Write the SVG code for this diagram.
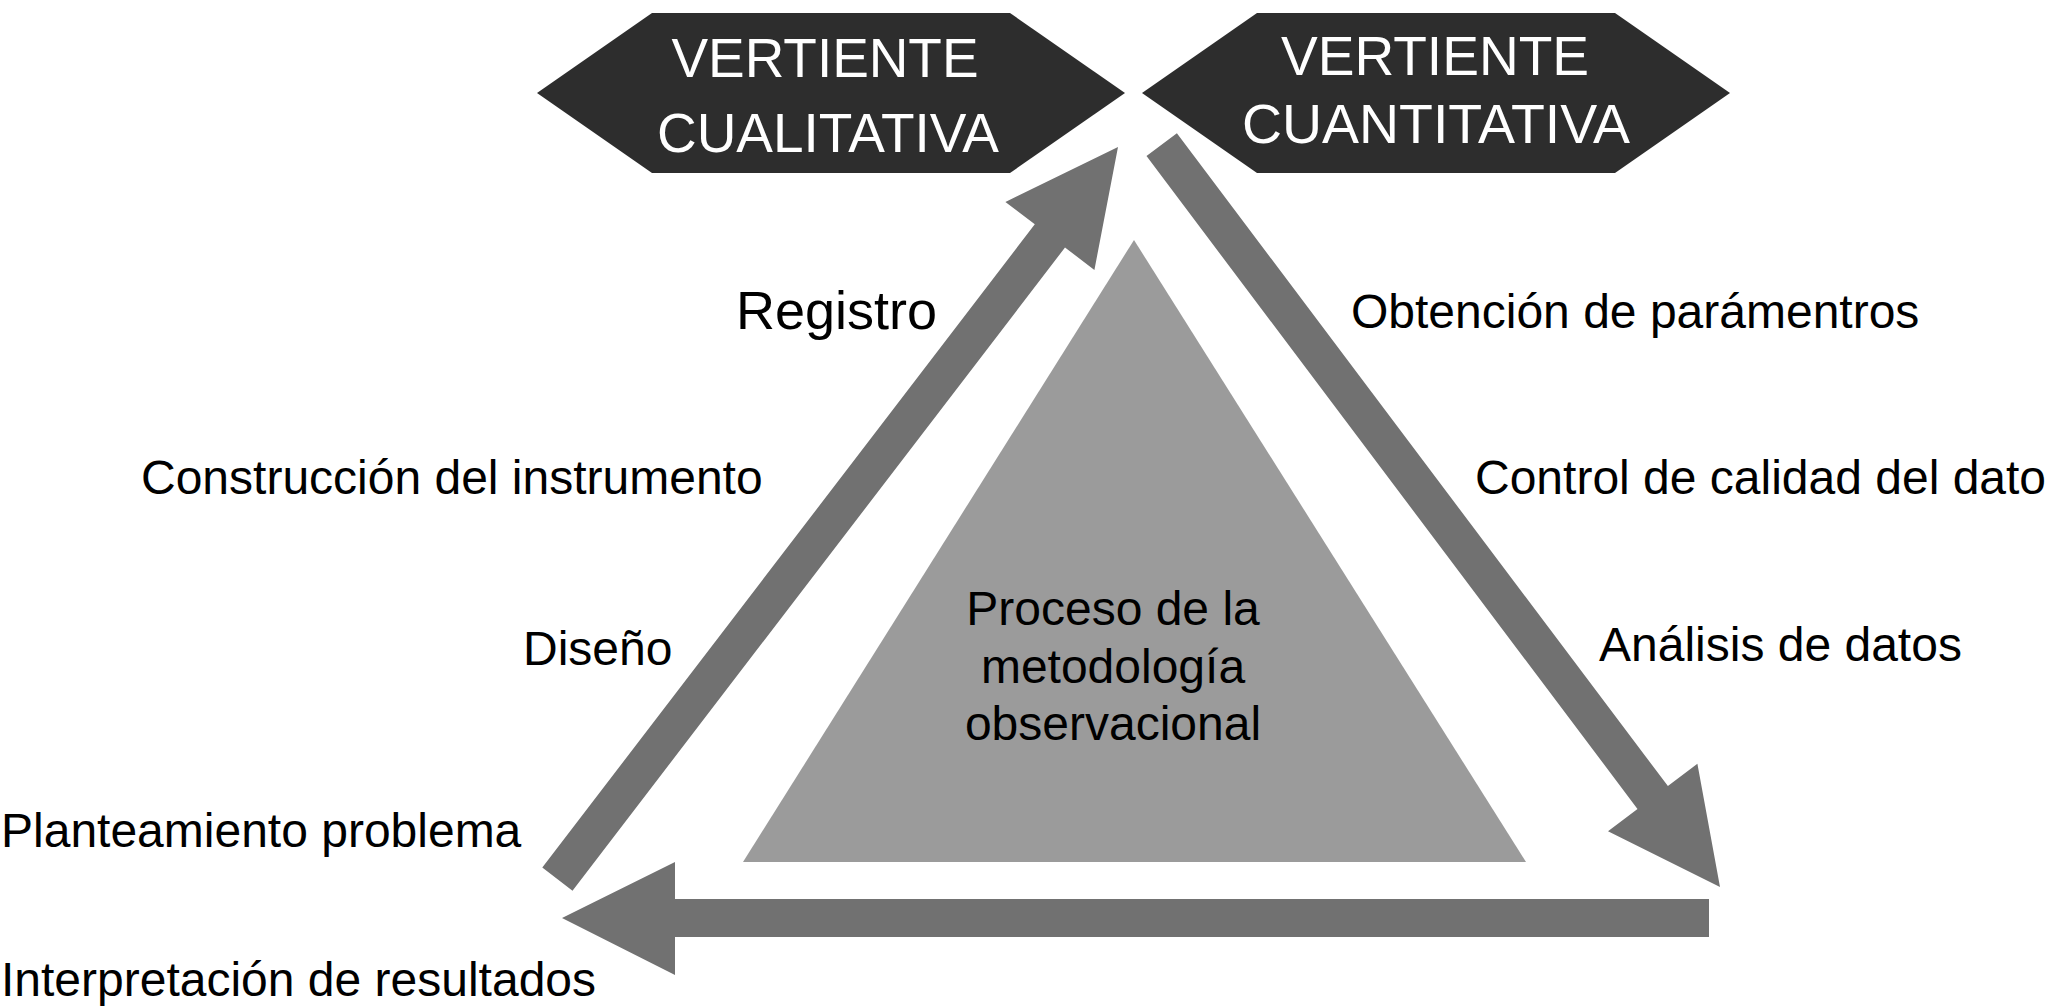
<svg xmlns="http://www.w3.org/2000/svg" width="2050" height="1008" viewBox="0 0 2050 1008">
  <style>
    .hex { fill: #2d2d2d; }
    .hext { fill: #ffffff; font-family: "Liberation Sans", Arial, sans-serif; font-size: 56px; text-anchor: middle; }
    .arrow { fill: #717171; }
    .tri { fill: #9b9b9b; }
    .lbl { fill: #000000; font-family: "Liberation Sans", Arial, sans-serif; font-size: 48px; }
    .tt { fill: #000000; font-family: "Liberation Sans", Arial, sans-serif; font-size: 48px; text-anchor: middle; }
  </style>
  <rect width="2050" height="1008" fill="#ffffff"/>

  <g id="triangulo">
    <polygon class="tri" points="1134,240 1526,862 743,862"/>
    <text class="tt" x="1113" y="625">Proceso de la</text>
    <text class="tt" x="1113" y="683">metodología</text>
    <text class="tt" x="1113" y="740">observacional</text>
  </g>

  <g id="connectors">
    <polygon class="arrow" points="1118,147 1094.4,269.9 1065,247.5 572.5,890.7 542.3,867.5 1034.8,224.3 1005.4,201.9"/>
    <polygon class="arrow" points="1720,887 1608,831.2 1637.5,808.9 1146.5,156.1 1176.9,133.3 1667.9,786.1 1697.4,763.8"/>
    <polygon class="arrow" points="562,918 675,862 675,899 1709,899 1709,937 675,937 675,975"/>
  </g>

  <g id="vertiente-cualitativa">
    <polygon class="hex" points="537,93 652,13 1010,13 1125,93 1010,173 652,173"/>
    <text class="hext" x="825" y="77" textLength="307" lengthAdjust="spacingAndGlyphs">VERTIENTE</text>
    <text class="hext" x="828" y="152" textLength="342" lengthAdjust="spacingAndGlyphs">CUALITATIVA</text>
  </g>

  <g id="vertiente-cuantitativa">
    <polygon class="hex" points="1142,93 1257,13 1615,13 1730,93 1615,173 1257,173"/>
    <text class="hext" x="1435" y="75" textLength="308" lengthAdjust="spacingAndGlyphs">VERTIENTE</text>
    <text class="hext" x="1436" y="143" textLength="388" lengthAdjust="spacingAndGlyphs">CUANTITATIVA</text>
  </g>

  <g id="etiquetas">
    <text class="lbl" x="736" y="329" style="font-size:54px">Registro</text>
    <text class="lbl" x="1351" y="328">Obtención de parámentros</text>
    <text class="lbl" x="141" y="494">Construcción del instrumento</text>
    <text class="lbl" x="1475" y="494">Control de calidad del dato</text>
    <text class="lbl" x="523" y="665">Diseño</text>
    <text class="lbl" x="1599" y="661">Análisis de datos</text>
    <text class="lbl" x="1" y="847">Planteamiento problema</text>
    <text class="lbl" x="1" y="996">Interpretación de resultados</text>
  </g>
</svg>
